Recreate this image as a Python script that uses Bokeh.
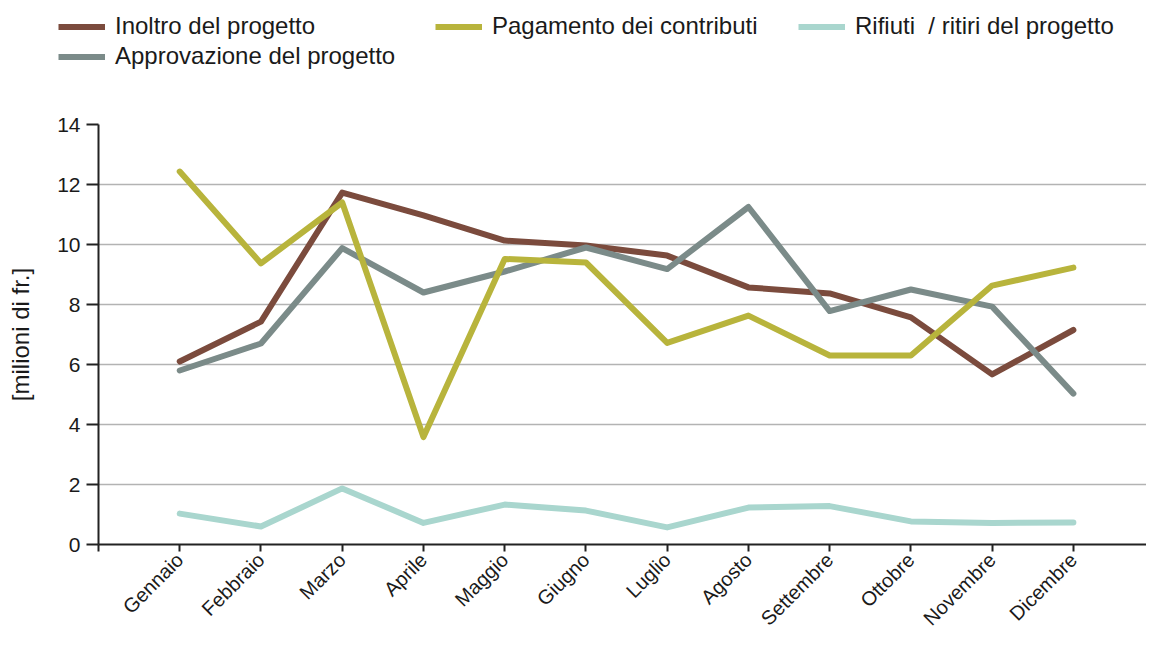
import math
from bokeh.plotting import figure
from bokeh.layouts import column
from bokeh.models import Range1d, FixedTicker, Legend, LegendItem
from bokeh.embed import file_html
from bokeh.resources import INLINE

months = ["Gennaio", "Febbraio", "Marzo", "Aprile", "Maggio", "Giugno",
          "Luglio", "Agosto", "Settembre", "Ottobre", "Novembre", "Dicembre"]

inoltro = [6.1, 7.43, 11.73, 10.97, 10.13, 9.97, 9.63, 8.57, 8.37, 7.57, 5.67, 7.15]
approvazione = [5.8, 6.7, 9.88, 8.4, 9.1, 9.9, 9.18, 11.25, 7.78, 8.5, 7.93, 5.03]
pagamento = [12.43, 9.37, 11.4, 3.58, 9.52, 9.4, 6.72, 7.63, 6.3, 6.3, 8.63, 9.23]
rifiuti = [1.03, 0.6, 1.87, 0.72, 1.33, 1.13, 0.57, 1.23, 1.28, 0.77, 0.72, 0.73]

series_labels = ["Inoltro del progetto", "Approvazione del progetto",
                 "Pagamento dei contributi", "Rifiuti  / ritiri del progetto"]
y_ticks = [0, 2, 4, 6, 8, 10, 12, 14]

colors = ["#7b4b3d", "#7b8b89", "#b8b43c", "#a9d6ce"]
FONT = "Liberation Sans"
W = 1146
LEG_H = 80
MAIN_H = 640 - LEG_H

x = list(range(len(months)))
all_series = [inoltro, approvazione, pagamento, rifiuti]

# ---------- main chart ----------
p = figure(width=W, height=MAIN_H, output_backend="svg", toolbar_location=None,
           x_range=Range1d(-1, 11.9), y_range=Range1d(0, 14),
           min_border_left=98, min_border_top=124 - LEG_H, min_border_bottom=96,
           min_border_right=0)
p.outline_line_color = None

for vals, c in zip(all_series, colors):
    p.line(x, vals, line_color=c, line_width=6, line_join="round", line_cap="round")

xa = p.xaxis[0]
xa.ticker = FixedTicker(ticks=list(range(-1, len(months) + 1)))
overrides = {i: m for i, m in enumerate(months)}
overrides[-1] = ""
overrides[len(months)] = ""
xa.major_label_overrides = overrides
xa.major_label_orientation = math.pi / 4
xa.major_label_text_font = FONT
xa.major_label_text_font_size = "20px"
xa.major_label_text_color = "#1a1a1a"
xa.major_label_standoff = 5
xa.major_tick_out = 7
xa.major_tick_in = 0
xa.minor_tick_line_color = None
xa.axis_line_color = "#222222"
xa.axis_line_width = 2
xa.major_tick_line_color = "#222222"
xa.major_tick_line_width = 2

ya = p.yaxis[0]
ya.ticker = FixedTicker(ticks=y_ticks)
ya.major_label_text_font = FONT
ya.major_label_text_font_size = "21px"
ya.major_label_text_color = "#1a1a1a"
ya.major_label_standoff = 6
ya.major_tick_out = 12
ya.major_tick_in = 0
ya.minor_tick_line_color = None
ya.axis_line_color = "#222222"
ya.axis_line_width = 2
ya.major_tick_line_color = "#222222"
ya.major_tick_line_width = 2
ya.axis_label = "[milioni di fr.]"
ya.axis_label_text_font = FONT
ya.axis_label_text_font_size = "24px"
ya.axis_label_text_font_style = "normal"
ya.axis_label_text_color = "#1a1a1a"
ya.axis_label_standoff = 20

p.xgrid.grid_line_color = None
p.ygrid.grid_line_color = "#b3b3b3"
p.ygrid.grid_line_width = 1.5

# ---------- legend strip ----------
lf = figure(width=W, height=LEG_H, output_backend="svg", toolbar_location=None,
            x_range=Range1d(100, 101), y_range=Range1d(100, 101),
            x_axis_type=None, y_axis_type=None,
            min_border_left=0, min_border_right=0, min_border_top=0, min_border_bottom=0)
lf.frame_align = False
lf.outline_line_color = None
lf.xgrid.grid_line_color = None
lf.ygrid.grid_line_color = None

leg_renderers = []
for vals, c in zip(all_series, colors):
    leg_renderers.append(lf.line(x, vals, line_color=c, line_width=6))

# (left, bottom) of each legend entry, in pixels from the strip's bottom-left
leg_pos = [(58, 40), (58, 10), (435, 40), (798, 40)]
for r, lab, (lx, ly) in zip(leg_renderers, series_labels, leg_pos):
    leg = Legend(items=[LegendItem(label=lab, renderers=[r])], location=(lx, ly),
                 orientation="horizontal", padding=0, margin=0, spacing=0,
                 border_line_color=None, background_fill_alpha=0,
                 label_text_font=FONT, label_text_font_size="24px",
                 label_text_color="#1a1a1a",
                 glyph_width=47, glyph_height=27, label_height=27, label_standoff=10)
    lf.add_layout(leg, "center")

layout = column(lf, p, spacing=0)
open("out.html", "w").write(file_html(layout, INLINE))
